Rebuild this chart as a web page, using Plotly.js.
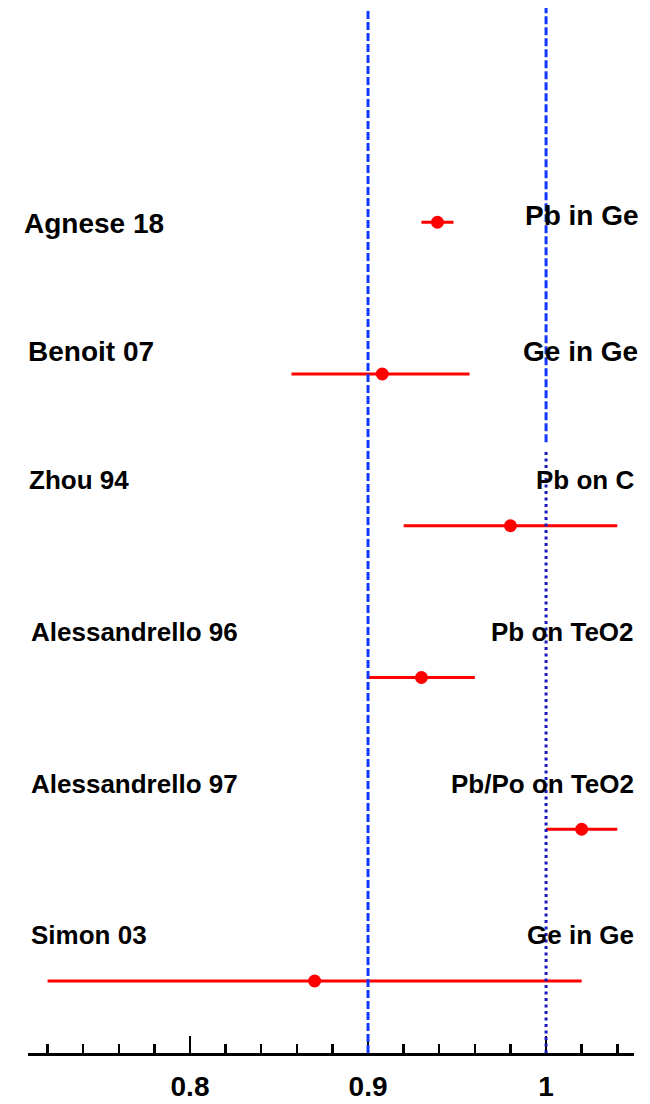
<!DOCTYPE html>
<html>
<head>
<meta charset="utf-8">
<script src="https://cdn.plot.ly/plotly-3.0.1.min.js"></script>
<style>
  html, body { margin: 0; padding: 0; background: #ffffff; }
  #chart { width: 650px; height: 1104px; }
</style>
</head>
<body>
<div id="chart"></div>
<script>
// Measured ratios with asymmetric uncertainties, one row per study (top to bottom)
const studies  = ['Agnese 18', 'Benoit 07', 'Zhou 94', 'Alessandrello 96', 'Alessandrello 97', 'Simon 03'];
const systems  = ['Pb in Ge', 'Ge in Ge', 'Pb on C', 'Pb on TeO2', 'Pb/Po on TeO2', 'Ge in Ge'];
const ratio    = [0.939, 0.908, 0.980, 0.930, 1.020, 0.870];
const errLow   = [0.009, 0.051, 0.060, 0.030, 0.020, 0.150];
const errHigh  = [0.009, 0.049, 0.060, 0.030, 0.020, 0.150];

// Reference values marked with vertical lines
const refDashed = [0.9, 1.0];
const refDotted = 1.0;

// Axis
const xRange = [0.709, 1.0494];
const majorTicks = [0.8, 0.9, 1.0];
const majorTickText = ['0.8', '0.9', '1'];

// ---- layout / styling ----
const W = 650, H = 1104;
const M = { l: 28, r: 16, t: 8, b: 51 };
const yRange = [0.5255, 7.412];
const FONT = 'Liberation Sans, Arial, Helvetica, sans-serif';

// per-row label styling: vertical offset from the row (in row units), font size, pixel anchors
const leftLabelOffset  = [-0.01, 0.147, 0.30, 0.30, 0.30, 0.30];
const rightLabelOffset = [0.045, 0.147, 0.30, 0.30, 0.30, 0.30];
const labelSize        = [28, 28, 26, 26, 26, 26];
const leftLabelPx      = [22, 26, 27, 29, 29, 29];
const rightLabelPx     = [641, 640, 636, 636, 636, 636];

const n = studies.length;
const rowPos = studies.map((_, i) => n - i);   // first study on top
const plotW = W - M.l - M.r;
const pxToPaperX = px => (px - M.l) / plotW;

const points = {
  type: 'scatter',
  mode: 'markers',
  x: ratio,
  y: rowPos,
  marker: { color: '#ff0000', size: 13, symbol: 'circle', line: { width: 0 } },
  error_x: {
    type: 'data',
    symmetric: false,
    array: errHigh,
    arrayminus: errLow,
    color: '#ff0000',
    thickness: 3,
    width: 0
  },
  hoverinfo: 'x+text',
  text: studies,
  showlegend: false,
  cliponaxis: false
};

const shapes = [];
// dashed reference lines: full height at 0.9, upper part at 1.0
shapes.push({
  type: 'line', layer: 'above', xref: 'x', yref: 'y',
  x0: refDashed[0], x1: refDashed[0], y0: yRange[0], y1: yRange[1],
  line: { color: '#1238ff', width: 3, dash: '8px,3px' }
});
shapes.push({
  type: 'line', layer: 'above', xref: 'x', yref: 'y',
  x0: refDashed[1], x1: refDashed[1], y0: 4.55, y1: yRange[1],
  line: { color: '#1238ff', width: 3, dash: '8px,3px' }
});
// dotted continuation at 1.0 through the lower rows
shapes.push({
  type: 'line', layer: 'above', xref: 'x', yref: 'y',
  x0: refDotted, x1: refDotted, y0: yRange[0], y1: 4.5,
  line: { color: '#1a1ab8', width: 3, dash: '3px,3.5px' }
});

const annotations = [];
studies.forEach((name, i) => {
  annotations.push({
    xref: 'paper', yref: 'y',
    x: pxToPaperX(leftLabelPx[i]), y: rowPos[i] + leftLabelOffset[i],
    xanchor: 'left', yanchor: 'middle',
    text: name, showarrow: false,
    font: { family: FONT, size: labelSize[i], color: '#000000', weight: 'bold' }
  });
  annotations.push({
    xref: 'paper', yref: 'y',
    x: pxToPaperX(rightLabelPx[i]), y: rowPos[i] + rightLabelOffset[i],
    xanchor: 'right', yanchor: 'middle',
    text: systems[i], showarrow: false,
    font: { family: FONT, size: labelSize[i], color: '#000000', weight: 'bold' }
  });
});

const layout = {
  width: W, height: H,
  margin: M,
  paper_bgcolor: '#ffffff',
  plot_bgcolor: '#ffffff',
  showlegend: false,
  xaxis: {
    range: xRange,
    showgrid: false, zeroline: false,
    showline: true, linecolor: '#000000', linewidth: 2.5,
    tickmode: 'array', tickvals: majorTicks, ticktext: majorTickText,
    ticks: 'inside', ticklen: 17, tickwidth: 2.5, tickcolor: '#000000',
    minor: { dtick: 0.02, tick0: 0, ticks: 'inside', ticklen: 9, tickwidth: 2.5, tickcolor: '#000000', showgrid: false },
    tickfont: { family: FONT, size: 28, color: '#000000', weight: 'bold' },
    ticklabelstandoff: 7,
    fixedrange: true
  },
  yaxis: {
    range: yRange,
    visible: false,
    fixedrange: true
  },
  shapes: shapes,
  annotations: annotations
};

Plotly.newPlot('chart', [points], layout, { displayModeBar: false, staticPlot: true });
</script>
</body>
</html>
